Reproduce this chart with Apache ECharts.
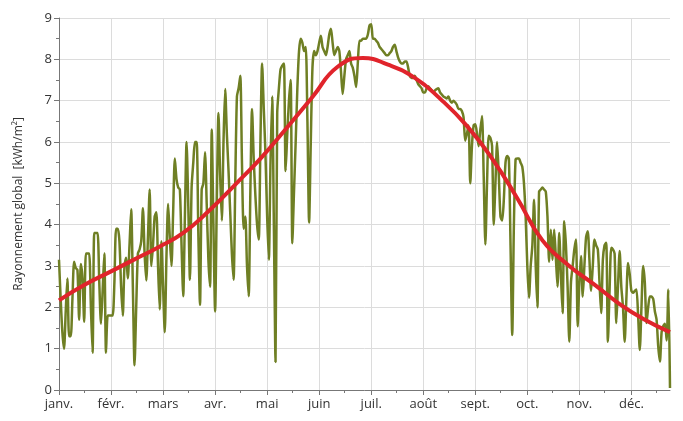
<!DOCTYPE html>
<html>
<head>
<meta charset="utf-8">
<script src="https://cdn.jsdelivr.net/npm/echarts@6/dist/echarts.min.js"></script>
<style>
  html, body { margin: 0; padding: 0; background: #fff; }
  #chart { width: 683px; height: 421px; }
</style>
</head>
<body>
<div id="chart"></div>
<script>
  // month tick labels (one every 31 days on the axis)
  const monthLabels = ['janv.', 'févr.', 'mars', 'avr.', 'mai', 'juin', 'juil.', 'août', 'sept.', 'oct.', 'nov.', 'déc.']

  // daily global irradiation, kWh/m2, read month by month
  const janv = [3.15, 2.2, 1.4, 1.0, 1.9, 2.7, 1.3, 1.3, 2.2, 3.1,
    2.95, 2.9, 1.7, 3.05, 2.7, 1.65, 3.3, 3.3, 3.3, 2.0,
    0.9, 3.8, 3.8, 3.8, 2.6, 1.6, 2.4, 3.3, 0.9, 1.8, 1.8]
  const fevr = [1.8, 1.8, 2.6, 3.9, 3.9, 3.6, 2.5, 1.8, 3.0, 3.2,
    2.7, 3.5, 4.37, 2.5, 0.6, 2.0, 3.3, 3.4, 3.6, 4.4,
    3.3, 2.65, 3.7, 4.85, 3.0, 3.5, 4.2, 4.3]
  const mars = [3.0, 1.95, 3.6, 2.5, 1.4, 3.2, 4.5, 3.7, 3.0, 4.3,
    5.6, 5.1, 4.9, 4.85, 3.5, 2.27, 4.2, 6.0, 4.5, 2.67,
    4.9, 5.5, 6.0, 6.0, 3.8, 2.06, 4.85, 5.0, 5.75, 4.5, 3.15]
  const avr = [2.5, 6.3, 4.0, 1.9, 4.5, 6.7, 5.2, 4.1, 6.0, 7.28,
    6.2, 5.3, 4.3, 3.3, 2.67, 5.0, 7.1, 7.3, 7.6, 5.5,
    3.9, 4.2, 3.0, 2.27, 4.8, 6.8, 5.6, 4.7, 4.0, 3.64]
  const mai = [6.0, 7.9, 6.8, 5.7, 4.2, 3.15, 5.5, 7.1, 4.0, 0.68,
    6.7, 7.3, 7.76, 7.85, 7.9, 5.3, 6.2, 7.0, 7.5, 3.55,
    4.8, 6.0, 7.3, 8.2, 8.5, 8.4, 8.2, 8.3, 6.5, 4.05, 6.0]
  const juin = [7.8, 8.2, 8.1, 8.2, 8.4, 8.57, 8.3, 8.2, 8.1, 8.3,
    8.6, 8.74, 8.4, 8.1, 8.2, 8.3, 8.2, 7.7, 7.16, 7.6,
    8.0, 8.1, 8.2, 7.9, 7.8, 7.6, 7.33, 7.9, 8.45, 8.45]
  const juil = [8.5, 8.5, 8.5, 8.6, 8.82, 8.85, 8.5, 8.5, 8.45, 8.4,
    8.3, 8.25, 8.2, 8.15, 8.1, 8.1, 8.15, 8.2, 8.3, 8.35,
    8.2, 8.05, 7.95, 7.9, 7.9, 7.95, 7.95, 7.8, 7.6, 7.55, 7.55]
  const aout = [7.6, 7.5, 7.4, 7.35, 7.3, 7.2, 7.2, 7.3, 7.35, 7.3,
    7.25, 7.2, 7.25, 7.28, 7.3, 7.2, 7.15, 7.1, 7.08, 7.05,
    7.1, 7.0, 6.95, 7.0, 6.96, 6.9, 6.8, 6.8, 6.75, 6.6, 6.03]
  const sept = [6.2, 6.4, 5.0, 5.9, 6.4, 6.43, 6.2, 5.9, 6.3, 6.63,
    5.2, 3.52, 5.0, 6.15, 6.1, 5.9, 4.0, 5.0, 6.0, 5.2,
    4.2, 4.1, 4.6, 5.5, 5.66, 5.6, 3.5, 1.33, 4.0, 5.58]
  const oct = [5.6, 5.6, 5.5, 5.4, 5.0, 4.2, 3.0, 2.23, 3.0, 3.5,
    4.6, 3.0, 2.0, 4.8, 4.85, 4.9, 4.85, 4.8, 4.2, 3.1,
    3.88, 3.15, 3.88, 3.2, 2.5, 3.8, 2.8, 1.86, 4.08, 3.5, 2.5]
  const nov = [1.17, 2.6, 3.0, 3.4, 3.64, 1.54, 2.6, 3.24, 2.26, 3.0,
    3.7, 3.84, 3.15, 2.4, 3.0, 3.64, 3.5, 3.4, 2.6, 1.86,
    3.15, 3.5, 3.56, 1.17, 2.4, 3.44, 3.4, 3.3, 1.62, 2.5]
  const dec = [3.36, 2.5, 2.0, 1.17, 2.2, 3.07, 2.8, 2.4, 2.35, 2.4,
    2.43, 1.8, 0.97, 2.0, 3.0, 2.6, 1.62, 2.0, 2.26, 2.26,
    2.2, 1.9, 1.7, 1.05, 0.69, 1.4, 1.55, 1.6, 1.2, 2.43, 0.05]

  // smoothed seasonal curve (red), day index + value
  const trendDays = [0, 15, 31, 45, 59, 74, 90, 105, 120, 135, 151, 166, 181, 196, 212, 227, 243, 258, 273, 288, 304, 319, 334, 349, 364]
  const trendValues = [2.17, 2.54, 2.87, 3.16, 3.45, 3.8, 4.36, 4.97, 5.6, 6.31, 7.09, 7.82, 8.03, 7.87, 7.55, 7.05, 6.39, 5.6, 4.64, 3.62, 3.0, 2.55, 2.08, 1.7, 1.4]

  const daily = [].concat(janv, fevr, mars, avr, mai, juin, juil, aout, sept, oct, nov, dec)
  const days = daily.map((v, i) => String(i + 1))
  const trend = trendDays.map((d, i) => [d, trendValues[i]])

  const isMonth = (i) => i % 31 === 0 && i / 31 < monthLabels.length
  const isMidMonth = (i) => i % 31 === 15

  const font = 'Open Sans'
  let myChart = echarts.init(document.getElementById('chart'))
  myChart.setOption({
    animation: false,
    grid: { left: 59, right: 13, top: 18, bottom: 31 },
    xAxis: [{
      type: 'category',
      data: days,
      boundaryGap: false,
      axisLine: { lineStyle: { color: '#777' } },
      axisTick: { interval: (i) => isMonth(i), length: 5, lineStyle: { color: '#777' } },
      axisLabel: {
        interval: (i) => isMonth(i),
        formatter: (v, i) => monthLabels[i / 31] || '',
        color: '#333', fontSize: 13, fontFamily: font, margin: 8
      },
      splitLine: { show: true, interval: (i) => isMonth(i) && i > 0, lineStyle: { color: '#dcdcdc' } }
    }, {
      // mid-month minor ticks
      type: 'category',
      data: days,
      boundaryGap: false,
      position: 'bottom',
      axisLine: { show: false },
      axisTick: { interval: (i) => isMidMonth(i), length: 3, lineStyle: { color: '#777' } },
      axisLabel: { show: false },
      splitLine: { show: false }
    }],
    yAxis: {
      type: 'value',
      min: 0,
      max: 9,
      interval: 1,
      name: 'Rayonnement global  [kWh/m²]',
      nameLocation: 'middle',
      nameGap: 34,
      nameTextStyle: { color: '#333', fontSize: 12, fontFamily: font },
      axisLine: { show: true, lineStyle: { color: '#777' } },
      axisTick: { show: true, length: 5, lineStyle: { color: '#777' } },
      minorTick: { show: true, splitNumber: 2, length: 3, lineStyle: { color: '#777' } },
      axisLabel: { color: '#333', fontSize: 13, fontFamily: font, margin: 7 },
      splitLine: { lineStyle: { color: '#dcdcdc' } }
    },
    series: [{
      name: 'journalier',
      type: 'line',
      data: daily,
      showSymbol: false,
      smooth: 0.25,
      lineStyle: { color: '#6f7f24', width: 2.5 },
      itemStyle: { color: '#6f7f24' }
    }, {
      name: 'moyenne',
      type: 'line',
      data: trend,
      showSymbol: false,
      smooth: true,
      z: 3,
      lineStyle: { color: '#e0242b', width: 4 },
      itemStyle: { color: '#e0242b' }
    }]
  })
</script>
</body>
</html>
